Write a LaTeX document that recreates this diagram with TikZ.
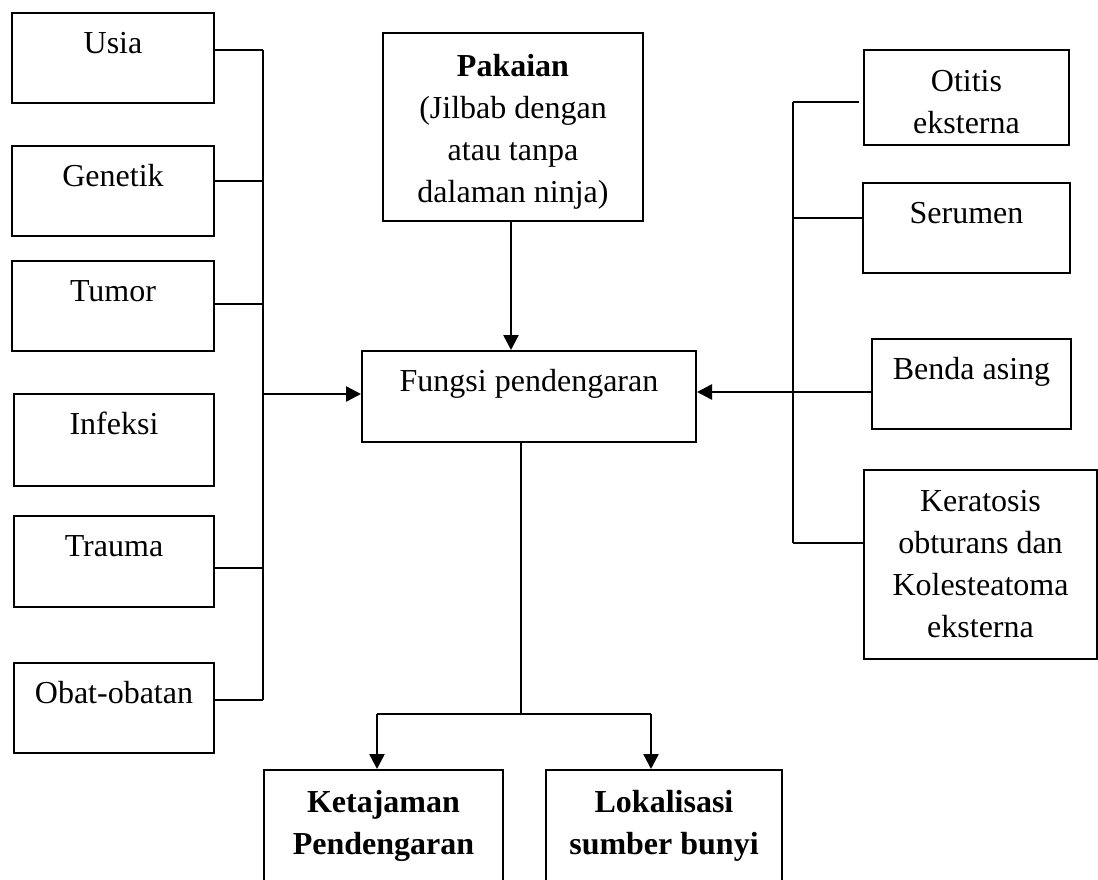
\documentclass[tikz,border=0pt]{standalone}
\usepackage{fontspec}
\setmainfont{Liberation Serif}
\usetikzlibrary{arrows.meta}

\newcommand{\boxfont}{\fontsize{32}{42}\selectfont}

\tikzstyle{factor} = [rectangle, draw=black, line width=2pt, inner sep=0pt, text height=40pt, text depth=50pt, anchor=north, font=\boxfont]
\tikzstyle{block} = [rectangle, draw=black, line width=2pt, inner sep=0pt, align=center, font=\boxfont]
\tikzstyle{line} = [line width=2pt]
\tikzstyle{arrow} = [line width=2.5pt, -{Triangle[length=15pt,width=15pt]}]

\begin{document}
\begin{tikzpicture}[x=1pt, y=-1pt]

    \clip (0,0) rectangle (1098,879);

    % Nodes
    \node (usia) [factor, minimum width=202pt] at (113,12) {Usia};
    \node (genetik) [factor, minimum width=202pt] at (113,145) {Genetik};
    \node (tumor) [factor, minimum width=202pt] at (113,260) {Tumor};
    \node (infeksi) [factor, minimum width=200pt, text depth=52pt] at (114,393) {Infeksi};
    \node (trauma) [factor, minimum width=200pt, text depth=51pt] at (114,515) {Trauma};
    \node (obat) [factor, minimum width=200pt] at (114,662) {Obat-obatan};

    \node (pakaian) [block, minimum width=260pt, minimum height=188pt] at (513,127) {\rule{0pt}{32pt}\textbf{Pakaian}\\(Jilbab dengan\\atau tanpa\\dalaman ninja)};
    \node (fungsi) [factor, minimum width=334pt, text depth=51pt] at (529,350) {Fungsi pendengaran};

    \node (otitis) [block, minimum width=205pt, minimum height=95pt] at (966.5,97.5) {\rule{0pt}{30pt}Otitis\\eksterna};
    \node (serumen) [factor, minimum width=207pt] at (966.5,182) {Serumen};
    \node (benda) [factor, minimum width=199pt] at (971.5,338) {Benda asing};
    \node (keratosis) [block, minimum width=233pt, minimum height=189pt] at (980.5,564.5) {Keratosis\\obturans dan\\Kolesteatoma\\eksterna};

    \node (ketajaman) [block, minimum width=239pt, minimum height=112pt] at (383.5,826) {\textbf{Ketajaman}\\\textbf{Pendengaran}};
    \node (lokalisasi) [block, minimum width=236pt, minimum height=112pt] at (664,826) {\textbf{Lokalisasi}\\\textbf{sumber bunyi}};

    % Bus points
    \coordinate (lb1) at (263,50);
    \coordinate (lb2) at (263,181);
    \coordinate (lb3) at (263,304);
    \coordinate (lb4) at (263,394);
    \coordinate (lb5) at (263,568);
    \coordinate (lb6) at (263,700);

    \coordinate (rb1) at (793,102);
    \coordinate (rb2) at (793,218);
    \coordinate (rb3) at (793,392);
    \coordinate (rb4) at (793,543);

    \coordinate (split) at (521,714);
    \coordinate (bl) at (377,714);
    \coordinate (br) at (651,714);

    % Left side
    \draw [line] (lb1) -- (lb6);
    \draw [line] (usia.east |- lb1) -- (lb1);
    \draw [line] (genetik.east |- lb2) -- (lb2);
    \draw [line] (tumor.east |- lb3) -- (lb3);
    \draw [line] (trauma.east |- lb5) -- (lb5);
    \draw [line] (obat.east |- lb6) -- (lb6);
    \draw [arrow] (lb4) -- (fungsi.west |- lb4);

    % Right side
    \draw [line] (rb1) -- (rb4);
    \draw [line, shorten >=4pt] (rb1) -- (otitis.west |- rb1);
    \draw [line] (rb2) -- (serumen.west |- rb2);
    \draw [line] (rb4) -- (keratosis.west |- rb4);
    \draw [arrow] (benda.west |- rb3) -- (fungsi.east |- rb3);

    % Top
    \draw [arrow] (pakaian.south -| 511,0) -- (fungsi.north -| 511,0);

    % Bottom
    \draw [line] (fungsi.south -| split) -- (split);
    \draw [line] (bl) -- (br);
    \draw [arrow] (bl) -- (ketajaman.north -| bl);
    \draw [arrow] (br) -- (lokalisasi.north -| br);

\end{tikzpicture}
\end{document}
